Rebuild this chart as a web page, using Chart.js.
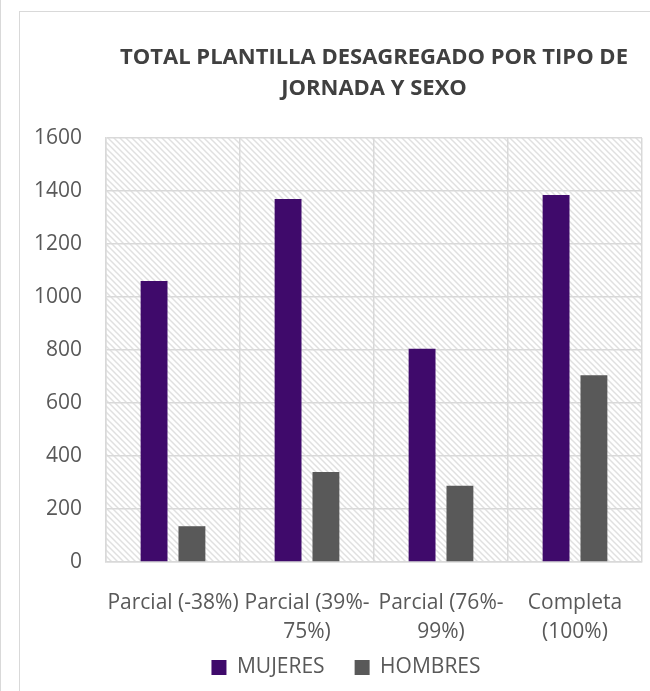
<!DOCTYPE html>
<html>
<head>
<meta charset="utf-8">
<script src="https://cdn.jsdelivr.net/npm/chart.js@4"></script>
<style>
  html, body { margin: 0; padding: 0; background: #fff; overflow: hidden; }
  #edge { position: absolute; left: 0; top: 0; width: 1px; height: 691px; background: #d9d9d9; }
  #caja { position: absolute; left: 19px; top: 11px; width: 660px; height: 720px;
          border-left: 1px solid #d9d9d9; border-top: 1px solid #d9d9d9; }
  #wrap { position: absolute; left: 1px; top: 3px; width: 650px; height: 697px; }
</style>
</head>
<body>
<div id="edge"></div>
<div id="caja">
  <div id="wrap"><canvas id="grafico"></canvas></div>
</div>
<script>
const categorias = [
  ['Parcial (-38%)'],
  ['Parcial (39%-', '75%)'],
  ['Parcial (76%-', '99%)'],
  ['Completa', '(100%)']
];
const mujeres = [1060, 1370, 805, 1385];
const hombres = [135, 340, 288, 705];
const ticksY = [0, 200, 400, 600, 800, 1000, 1200, 1400, 1600];

const GRIS = '#d9d9d9';
const TEXTO = '#595959';
const FUENTE = "'Open Sans', sans-serif";
const ALTO_LINEA_X = 29;

// trama diagonal del fondo del area de trazado
function crearTrama(ctx) {
  const c = document.createElement('canvas');
  c.width = 6; c.height = 6;
  const g = c.getContext('2d');
  g.fillStyle = '#fff';
  g.fillRect(0, 0, 6, 6);
  g.strokeStyle = '#e0e0e0';
  g.lineWidth = 1.5;
  g.beginPath();
  g.moveTo(-1, -1); g.lineTo(7, 7);
  g.moveTo(-1, 5); g.lineTo(1, 7);
  g.moveTo(5, -1); g.lineTo(7, 1);
  g.stroke();
  return ctx.createPattern(c, 'repeat');
}

const fondoTrama = {
  id: 'fondoTrama',
  beforeDraw(chart) {
    const a = chart.chartArea;
    const ctx = chart.ctx;
    ctx.save();
    ctx.fillStyle = crearTrama(ctx);
    ctx.fillRect(a.left, a.top, a.right - a.left, a.bottom - a.top);
    ctx.restore();
  }
};

// el padding grande separa los items; subimos la leyenda para que no quede baja
const subirLeyenda = {
  id: 'subirLeyenda',
  afterLayout(chart) {
    if (!chart.legend) return;
    chart.legend.top -= 20;
    chart.legend.bottom -= 20;
  }
};

const grafico = new Chart(document.getElementById('grafico'), {
  type: 'bar',
  data: {
    labels: categorias,
    datasets: [
      { label: 'MUJERES', data: mujeres, backgroundColor: '#3f0a6b',
        barPercentage: 0.71, categoryPercentage: 0.565 },
      { label: 'HOMBRES', data: hombres, backgroundColor: '#595959',
        barPercentage: 0.71, categoryPercentage: 0.565 }
    ]
  },
  options: {
    responsive: true,
    maintainAspectRatio: false,
    animation: false,
    layout: { padding: { left: 0, right: 0, top: 0, bottom: 4 } },
    plugins: {
      title: {
        display: true,
        fullSize: false,
        text: ['TOTAL PLANTILLA DESAGREGADO POR TIPO DE', 'JORNADA Y SEXO'],
        color: '#404040',
        font: { family: FUENTE, size: 22, weight: 'bold', lineHeight: 31 / 22 },
        padding: { top: 27, bottom: 34 }
      },
      legend: {
        position: 'bottom',
        labels: {
          color: TEXTO,
          font: { family: FUENTE, size: 21 },
          boxWidth: 15, boxHeight: 15, padding: 30
        }
      },
      tooltip: { enabled: false }
    },
    scales: {
      x: {
        afterFit: s => { s.height = 27 + 2 * ALTO_LINEA_X; },
        grid: { color: GRIS, lineWidth: 1.5, drawTicks: false, offset: true },
        border: { color: GRIS, width: 1.5 },
        ticks: {
          color: TEXTO, padding: 27, maxRotation: 0, autoSkip: false,
          font: { family: FUENTE, size: 21, lineHeight: ALTO_LINEA_X / 21 }
        }
      },
      y: {
        min: 0, max: 1600,
        afterBuildTicks: s => { s.ticks = ticksY.map(v => ({ value: v })); },
        afterFit: s => { s.width = 85; },
        grid: { color: GRIS, lineWidth: 1.5, drawTicks: false },
        border: { color: GRIS, width: 1.5 },
        ticks: {
          color: TEXTO, padding: 24,
          font: { family: FUENTE, size: 21 },
          callback: v => String(v)
        }
      },
      derecha: {
        position: 'right',
        display: true,
        afterFit: s => { s.width = 29; },
        grid: { display: false },
        border: { display: false },
        ticks: { display: false }
      }
    }
  },
  plugins: [fondoTrama, subirLeyenda]
});
</script>
</body>
</html>
